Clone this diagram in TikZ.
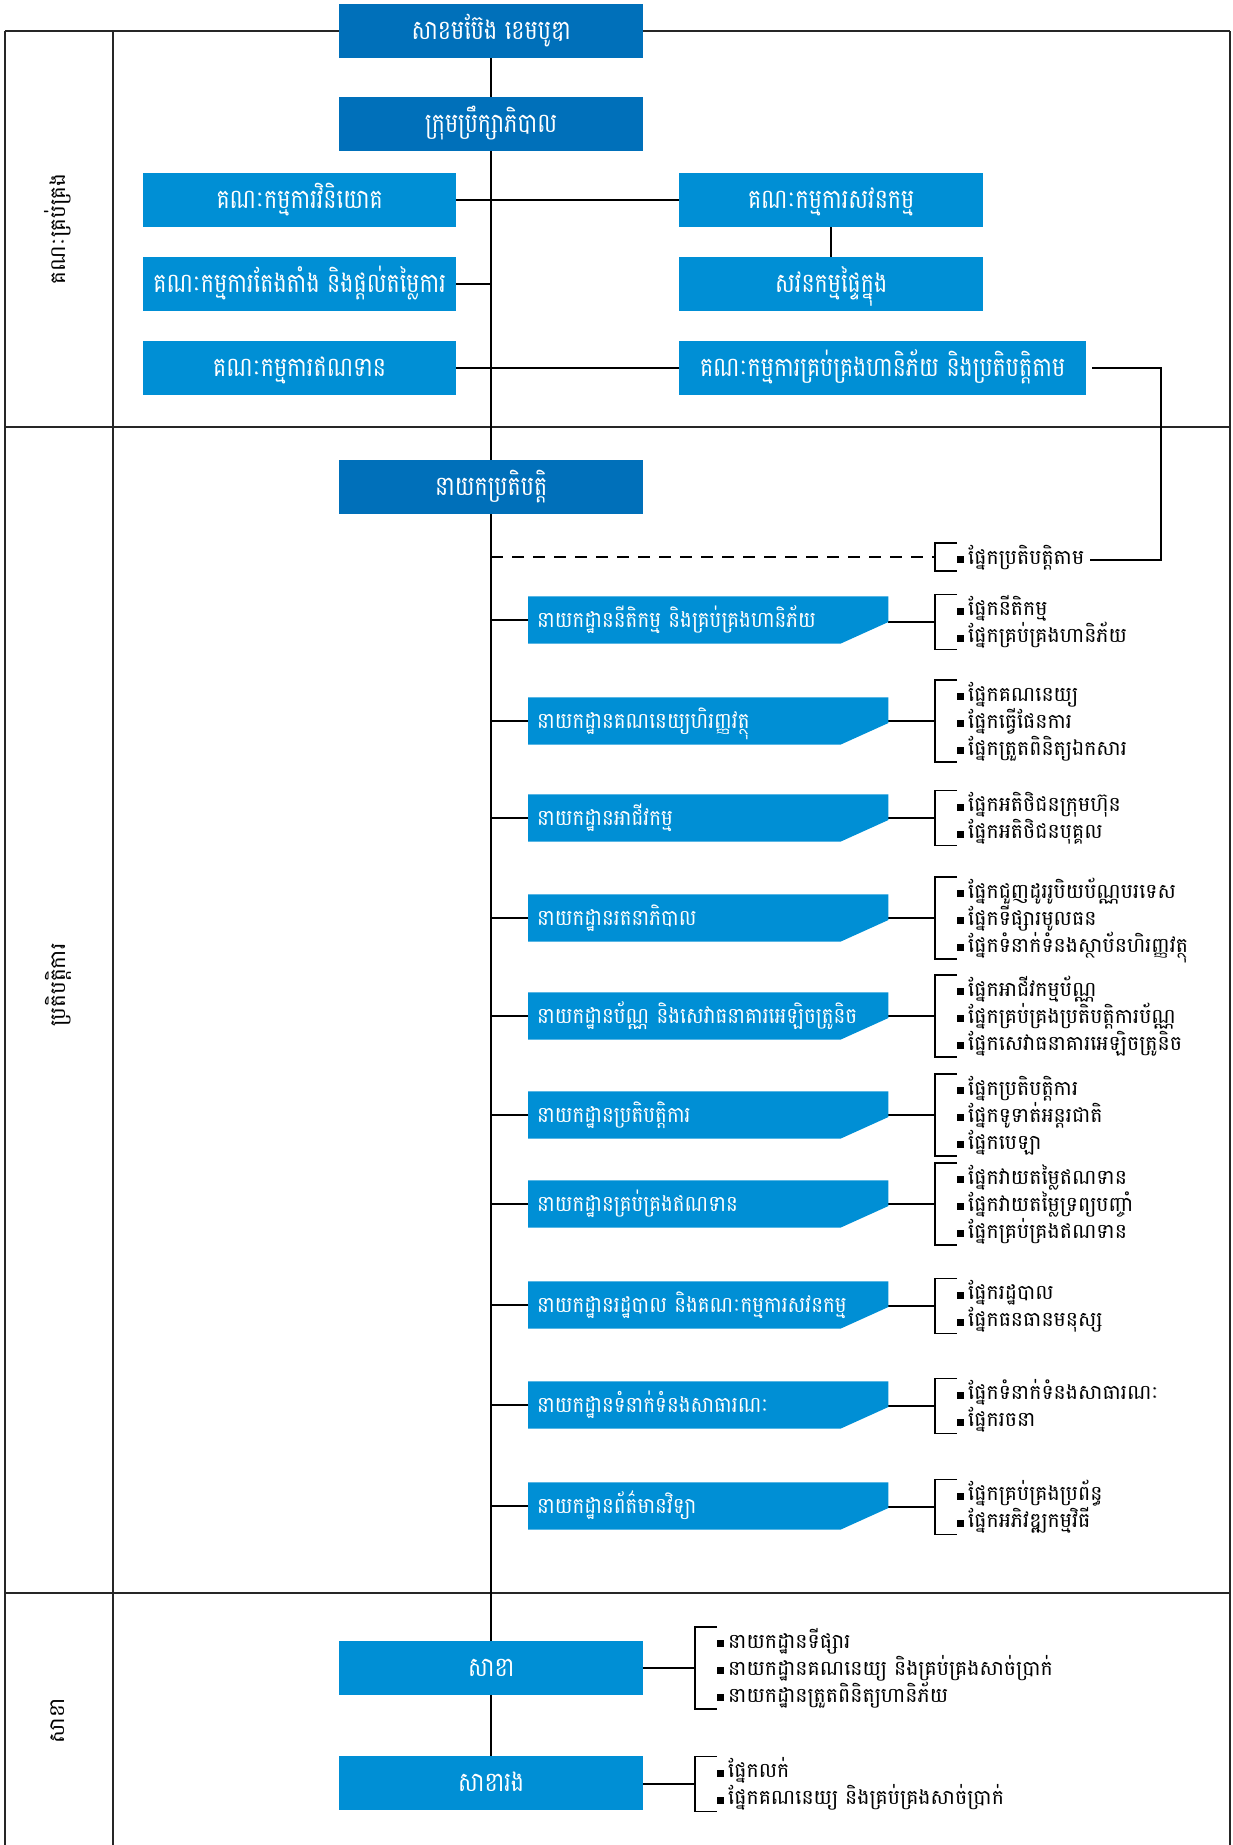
\documentclass[tikz,border=0pt]{standalone}
\usepackage{fontspec}
\setmainfont[Script=Khmer]{Battambang}
\newfontfamily\boxfont[Script=Khmer,FakeStretch=0.82]{Battambang}
\newfontfamily\deptfont[Script=Khmer,FakeStretch=0.9]{Battambang}
\newfontfamily\listfont[Script=Khmer]{Battambang}
\usetikzlibrary{backgrounds,calc}
\definecolor{darkblue}{RGB}{0,112,186}
\definecolor{lightblue}{RGB}{0,143,213}
\newcommand\blt{\rule[1pt]{7pt}{7pt}\hspace{4pt}}
\newcommand\itemlist[5]{%
  \foreach \itm [count=\i] in {#5} {
    \node[litem, anchor=west] (#1-\i) at ({#2+22},{#3+3+(\i-(#4+1)/2)*27}) {\blt\itm};
  }
  \coordinate (#1) at (#2,#3);
  \draw[conn] ({#2+22},{#3-(#4-1)*13.5-14}) -- ({#2},{#3-(#4-1)*13.5-14})
     -- ({#2},{#3+(#4-1)*13.5+14}) -- ({#2+22},{#3+(#4-1)*13.5+14});
}
\newcommand\deptfill[1]{\fill[lightblue] (#1.north west) -- (#1.north east)
  -- ([yshift=-2pt]#1.east) -- ([xshift=-48pt]#1.south east) -- (#1.south west) -- cycle;}
\begin{document}
\begin{tikzpicture}[x=1pt,y=-1pt,
  frame/.style={line width=2pt, draw=black!85},
  conn/.style={line width=1.5pt, draw=black},
  bfont/.style={font=\boxfont\fontsize{27}{30}\selectfont},
  topbox/.style={bfont, fill=darkblue, text=white, minimum width=304pt, minimum height=54pt,
     inner sep=0pt, text height=23pt, text depth=7pt, anchor=north west},
  combox/.style={topbox, fill=lightblue},
  dept/.style={font=\deptfont\fontsize{22}{25}\selectfont, text=white, text width=342pt, inner xsep=9pt, inner ysep=0pt,
     minimum height=47pt, align=left, text height=20pt, text depth=6pt, anchor=west},
  litem/.style={font=\listfont\fontsize{20.5}{24}\selectfont, inner sep=0pt, text height=14pt, text depth=6pt},
  lane/.style={font=\listfont\fontsize{21.5}{24}\selectfont, rotate=90, inner sep=0pt}
]
\useasboundingbox (0,0) rectangle (1232,1845);

% lanes
\node[lane] (lgov) at (58,229) {គណៈគ្រប់គ្រង};
\node[lane] (lops) at (58,985) {ប្រតិបត្តិការ};
\node[lane] (lbr) at (58,1721) {សាខា};

% top boxes
\node[topbox] (sacom) at (339,4) {សាខមប៊ែង ខេមបូឌា};
\node[topbox] (board) at (339,97) {ក្រុមប្រឹក្សាភិបាល};
\node[combox, minimum width=313pt] (inv) at (143,173) {គណៈកម្មការវិនិយោគ};
\node[combox, minimum width=313pt] (nom) at (143,257) {គណៈកម្មការតែងតាំង និងផ្តល់តម្លៃការ};
\node[combox, minimum width=313pt] (cred) at (143,341) {គណៈកម្មការឥណទាន};
\node[combox] (aud) at (679,173) {គណៈកម្មការសវនកម្ម};
\node[combox] (iaud) at (679,257) {សវនកម្មផ្ទៃក្នុង};
\node[combox, minimum width=407pt] (risk) at (679,341) {គណៈកម្មការគ្រប់គ្រងហានិភ័យ និងប្រតិបត្តិតាម};
\node[topbox] (ceo) at (339,460) {នាយកប្រតិបត្តិ};
\node[combox] (sakha) at (339,1641) {សាខា};
\node[combox] (sakharong) at (339,1756) {សាខារង};

% departments
\node[dept] (d1) at (528,620) {នាយកដ្ឋាននីតិកម្ម និងគ្រប់គ្រងហានិភ័យ};
\node[dept] (d2) at (528,721) {នាយកដ្ឋានគណនេយ្យហិរញ្ញវត្ថុ};
\node[dept] (d3) at (528,818) {នាយកដ្ឋានអាជីវកម្ម};
\node[dept] (d4) at (528,918) {នាយកដ្ឋានរតនាភិបាល};
\node[dept] (d5) at (528,1016) {នាយកដ្ឋានប័ណ្ណ និងសេវាធនាគារអេឡិចត្រូនិច};
\node[dept] (d6) at (528,1115) {នាយកដ្ឋានប្រតិបត្តិការ};
\node[dept] (d7) at (528,1204) {នាយកដ្ឋានគ្រប់គ្រងឥណទាន};
\node[dept] (d8) at (528,1305) {នាយកដ្ឋានរដ្ឋបាល និងគណៈកម្មការសវនកម្ម};
\node[dept] (d9) at (528,1405) {នាយកដ្ឋានទំនាក់ទំនងសាធារណៈ};
\node[dept] (d10) at (528,1506) {នាយកដ្ឋានព័ត៌មានវិទ្យា};

% item lists with brackets
\itemlist{cmp}{935}{557}{1}{ផ្នែកប្រតិបត្តិតាម}
\itemlist{l1}{935}{622}{2}{ផ្នែកនីតិកម្ម, ផ្នែកគ្រប់គ្រងហានិភ័យ}
\itemlist{l2}{935}{721}{3}{ផ្នែកគណនេយ្យ, ផ្នែកធ្វើផែនការ, ផ្នែកត្រួតពិនិត្យឯកសារ}
\itemlist{l3}{935}{818}{2}{ផ្នែកអតិថិជនក្រុមហ៊ុន, ផ្នែកអតិថិជនបុគ្គល}
\itemlist{l4}{935}{918}{3}{ផ្នែកជួញដូររូបិយប័ណ្ណបរទេស, ផ្នែកទីផ្សារមូលធន, ផ្នែកទំនាក់ទំនងស្ថាប័នហិរញ្ញវត្ថុ}
\itemlist{l5}{935}{1016}{3}{ផ្នែកអាជីវកម្មប័ណ្ណ, ផ្នែកគ្រប់គ្រងប្រតិបត្តិការប័ណ្ណ, ផ្នែកសេវាធនាគារអេឡិចត្រូនិច}
\itemlist{l6}{935}{1115}{3}{ផ្នែកប្រតិបត្តិការ, ផ្នែកទូទាត់អន្តរជាតិ, ផ្នែកបេឡា}
\itemlist{l7}{935}{1204}{3}{ផ្នែកវាយតម្លៃឥណទាន, ផ្នែកវាយតម្លៃទ្រព្យបញ្ចាំ, ផ្នែកគ្រប់គ្រងឥណទាន}
\itemlist{l8}{935}{1306}{2}{ផ្នែករដ្ឋបាល, ផ្នែកធនធានមនុស្ស}
\itemlist{l9}{935}{1406}{2}{ផ្នែកទំនាក់ទំនងសាធារណៈ, ផ្នែករចនា}
\itemlist{l10}{935}{1507}{2}{ផ្នែកគ្រប់គ្រងប្រព័ន្ធ, ផ្នែកអភិវឌ្ឍកម្មវិធី}
\itemlist{b1}{695}{1668}{3}{នាយកដ្ឋានទីផ្សារ, នាយកដ្ឋានគណនេយ្យ និងគ្រប់គ្រងសាច់ប្រាក់, នាយកដ្ឋានត្រួតពិនិត្យហានិភ័យ}
\itemlist{b2}{695}{1784}{2}{ផ្នែកលក់, ផ្នែកគណនេយ្យ និងគ្រប់គ្រងសាច់ប្រាក់}

\coordinate (rcorner) at (1161,560);

\begin{pgfonlayer}{background}
  % frame
  \draw[frame] (5,31) -- (1230,31);
  \draw[frame] (5,31) -- (5,1845);
  \draw[frame] (113,31) -- (113,1845);
  \draw[frame] (1230,31) -- (1230,1845);
  \draw[frame] (5,427) -- (1230,427);
  \draw[frame] (5,1593) -- (1230,1593);
  % spine
  \draw[conn] (sacom.south) -- (sakharong.north);
  % committees
  \draw[conn] (inv.east) -- (aud.west);
  \draw[conn] (nom.east) -- (nom.east -| board.south);
  \draw[conn] (cred.east) -- (risk.west);
  \draw[conn] (aud.south) -- (iaud.north);
  \draw[conn] ([xshift=6pt]risk.east) -| (rcorner) -- ([xshift=5pt]cmp-1.east);
  \draw[conn, dash pattern=on 12pt off 9pt] (ceo.south |- cmp) -- (cmp);
  % departments
  \foreach \d/\l in {d1/l1,d2/l2,d3/l3,d4/l4,d5/l5,d6/l6,d7/l7,d8/l8,d9/l9,d10/l10} {
    \draw[conn] (ceo.south |- \d.west) -- (\d.west);
    \draw[conn] (\d.east |- \l) -- (\l);
    \deptfill{\d}
  }
  \draw[conn] (sakha.east |- b1) -- (b1);
  \draw[conn] (sakharong.east |- b2) -- (b2);
\end{pgfonlayer}
\end{tikzpicture}
\end{document}
